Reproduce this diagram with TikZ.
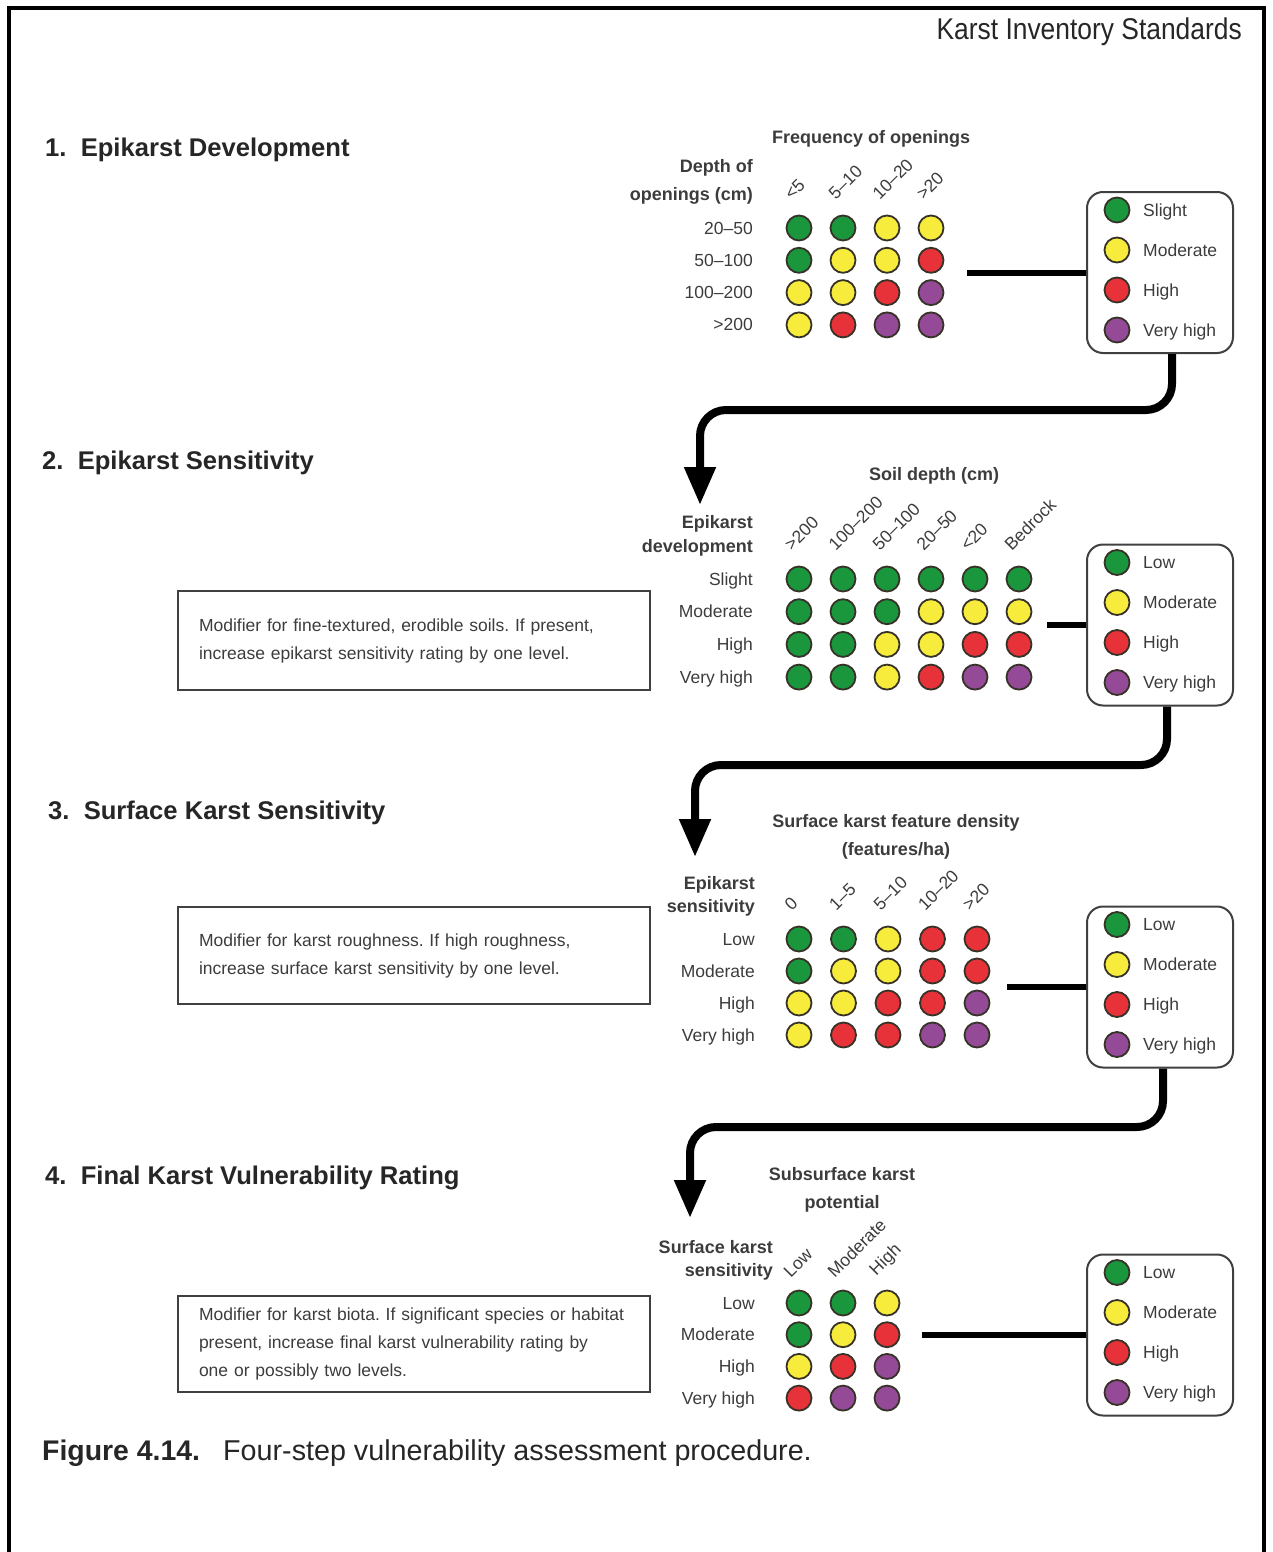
\documentclass[tikz,border=0pt]{standalone}
\usepackage{fontspec}
\setmainfont{Liberation Sans}
\usetikzlibrary{arrows.meta}
\definecolor{kG}{RGB}{26,150,60}
\definecolor{kY}{RGB}{247,236,60}
\definecolor{kR}{RGB}{230,50,56}
\definecolor{kP}{RGB}{148,74,150}
\definecolor{dotline}{RGB}{55,50,40}
\definecolor{txt}{RGB}{60,60,60}
\newcommand\kLegend[3]{%
  \node[legbox] (#1) at (1160,#2) {};
  \foreach \clr/\lab [count=\i] in {kG/#3,kY/Moderate,kR/High,kP/Very high} {
    \node[dot,fill=\clr] (#1-d\i) at (1117,{#2-62.5+(\i-1)*40}) {};
    \node[legtxt] (#1-t\i) at (1143,{#2-62.5+(\i-1)*40+6}) {\lab};
  }%
}
\begin{document}
\frenchspacing
\begin{tikzpicture}[x=1pt,y=-1pt,
  dot/.style={circle,draw=dotline,line width=1.8pt,minimum size=25pt,inner sep=0pt},
  rowlab/.style={anchor=base east,inner sep=0pt,text=txt,font=\fontsize{17.5}{20}\selectfont},
  collab/.style={anchor=south west,rotate=45,inner sep=0pt,text=txt,font=\fontsize{17.5}{20}\selectfont},
  hdr/.style={anchor=base,inner sep=0pt,text=txt,font=\fontsize{18}{20}\selectfont\bfseries},
  hdre/.style={anchor=base east,inner sep=0pt,text=txt,font=\fontsize{18}{20}\selectfont\bfseries},
  sect/.style={anchor=base west,inner sep=0pt,font=\fontsize{25.6}{30}\selectfont\bfseries,text=black!85},
  legbox/.style={draw=black!75,line width=2pt,rounded corners=16pt,minimum width=146pt,minimum height=161pt,inner sep=0pt},
  legtxt/.style={anchor=base west,inner sep=0pt,text=txt,font=\fontsize{17.5}{20}\selectfont},
  modbox/.style={draw=black!75,line width=2pt,minimum width=472pt,inner sep=0pt,text width=430pt,align=left,text=txt,font=\fontsize{17.5}{28}\selectfont},
  link/.style={line width=6pt,black},
  flow/.style={line width=8pt,black,rounded corners=26pt,-{Triangle[length=38pt,width=30pt]}}
]
\useasboundingbox (0,0) rectangle (1273,1552);
% frame
\draw[line width=4pt] (9,1552) -- (9,8) -- (1264,8) -- (1264,1552);
\node[anchor=base east,inner sep=0pt,font=\fontsize{30}{34}\selectfont,text=black!85] (title) at (1242,40) {\scalebox{0.88}[1]{Karst Inventory Standards}};

% ---------- Step 1
\node[sect] (s1) at (45,157) {1.\ \ Epikarst Development};
\node[hdr] (a-top) at (871,143) {Frequency of openings};
\node[hdre] (a-h1) at (753,172) {Depth of};
\node[hdre] (a-h2) at (753,200) {openings (cm)};
\foreach \lab [count=\c] in {<5,5–10,10–20,>20}
  \node[collab] (a-c\c) at ({799+(\c-1)*44-7},201) {\lab};
\foreach \lab [count=\r] in {20–50,50–100,100–200,>200}
  \node[rowlab] (a-r\r) at (753,{228+(\r-1)*32.3+6}) {\lab};
\foreach \row [count=\r] in {{kG,kG,kY,kY},{kG,kY,kY,kR},{kY,kY,kR,kP},{kY,kR,kP,kP}} {
  \foreach \clr [count=\c] in \row
    \node[dot,fill=\clr] (a-\r-\c) at ({799+(\c-1)*44},{228+(\r-1)*32.3}) {};
}
\kLegend{leg1}{272.5}{Slight}
\coordinate (a-out) at (967,272.5);
\draw[link] (a-out) -- (leg1.west);

% ---------- Step 2
\node[sect] (s2) at (42,469) {2.\ \ Epikarst Sensitivity};
\node[hdr] (b-top) at (934,480) {Soil depth (cm)};
\node[hdre] (b-h1) at (753,528) {Epikarst};
\node[hdre] (b-h2) at (753,552) {development};
\foreach \lab [count=\c] in {>200,100–200,50–100,20–50,<20,Bedrock}
  \node[collab] (b-c\c) at ({799+(\c-1)*44-7},552) {\lab};
\foreach \lab [count=\r] in {Slight,Moderate,High,Very high}
  \node[rowlab] (b-r\r) at (753,{579+(\r-1)*32.7+6}) {\lab};
\foreach \row [count=\r] in {{kG,kG,kG,kG,kG,kG},{kG,kG,kG,kY,kY,kY},{kG,kG,kY,kY,kR,kR},{kG,kG,kY,kR,kP,kP}} {
  \foreach \clr [count=\c] in \row
    \node[dot,fill=\clr] (b-\r-\c) at ({799+(\c-1)*44},{579+(\r-1)*32.7}) {};
}
\kLegend{leg2}{625}{Low}
\coordinate (b-out) at (1047,625);
\draw[link] (b-out) -- (leg2.west);
\node[modbox,minimum height=99pt] (m2) at (414,640.5) {Modifier for fine-textured, erodible soils. If present,\\increase epikarst sensitivity rating by one level.};

% ---------- Step 3
\node[sect] (s3) at (48,819) {3.\ \ Surface Karst Sensitivity};
\node[hdr] (c-top1) at (896,827) {Surface karst feature density};
\node[hdr] (c-top2) at (896,855) {(features/ha)};
\node[hdre] (c-h1) at (755,889) {Epikarst};
\node[hdre] (c-h2) at (755,912) {sensitivity};
\foreach \lab [count=\c] in {0,1–5,5–10,10–20,>20}
  \node[collab] (c-c\c) at ({799+(\c-1)*44.5-7},912) {\lab};
\foreach \lab [count=\r] in {Low,Moderate,High,Very high}
  \node[rowlab] (c-r\r) at (755,{939+(\r-1)*32+6}) {\lab};
\foreach \row [count=\r] in {{kG,kG,kY,kR,kR},{kG,kY,kY,kR,kR},{kY,kY,kR,kR,kP},{kY,kR,kR,kP,kP}} {
  \foreach \clr [count=\c] in \row
    \node[dot,fill=\clr] (c-\r-\c) at ({799+(\c-1)*44.5},{939+(\r-1)*32}) {};
}
\kLegend{leg3}{987}{Low}
\coordinate (c-out) at (1007,987);
\draw[link] (c-out) -- (leg3.west);
\node[modbox,minimum height=97pt] (m3) at (414,955.5) {Modifier for karst roughness. If high roughness,\\increase surface karst sensitivity by one level.};

% ---------- Step 4
\node[sect] (s4) at (45,1184) {4.\ \ Final Karst Vulnerability Rating};
\node[hdr] (d-top1) at (842,1180) {Subsurface karst};
\node[hdr] (d-top2) at (842,1208) {potential};
\node[hdre] (d-h1) at (773,1253) {Surface karst};
\node[hdre] (d-h2) at (773,1276) {sensitivity};
\foreach \lab [count=\c] in {Low,Moderate,High}
  \node[collab] (d-c\c) at ({799+(\c-1)*44-8},1279) {\lab};
\foreach \lab [count=\r] in {Low,Moderate,High,Very high}
  \node[rowlab] (d-r\r) at (755,{1303+(\r-1)*31.7+6}) {\lab};
\foreach \row [count=\r] in {{kG,kG,kY},{kG,kY,kR},{kY,kR,kP},{kR,kP,kP}} {
  \foreach \clr [count=\c] in \row
    \node[dot,fill=\clr] (d-\r-\c) at ({799+(\c-1)*44},{1303+(\r-1)*31.7}) {};
}
\kLegend{leg4}{1335}{Low}
\coordinate (d-out) at (922,1335);
\draw[link] (d-out) -- (leg4.west);
\node[modbox,minimum height=96pt] (m4) at (414,1344) {Modifier for karst biota. If significant species or habitat\\present, increase final karst vulnerability rating by\\one or possibly two levels.};

% ---------- flow arrows
\coordinate (bend1) at (700,410);
\coordinate (tip1) at (700,505);
\draw[flow] ([xshift=12pt]leg1.south) |- (bend1) -- (tip1);
\coordinate (bend2) at (695,765);
\coordinate (tip2) at (695,857);
\draw[flow] ([xshift=7pt]leg2.south) |- (bend2) -- (tip2);
\coordinate (bend3) at (690,1127);
\coordinate (tip3) at (690,1218);
\draw[flow] ([xshift=3pt]leg3.south) |- (bend3) -- (tip3);

% ---------- caption
\node[anchor=base west,inner sep=0pt,font=\fontsize{28.4}{32}\selectfont\bfseries,text=black!85] (cap1) at (42,1460) {Figure 4.14.};
\node[anchor=base west,inner sep=0pt,font=\fontsize{28.7}{32}\selectfont,text=black!85] (cap2) at (223,1460) {Four-step vulnerability assessment procedure.};
\end{tikzpicture}
\end{document}
